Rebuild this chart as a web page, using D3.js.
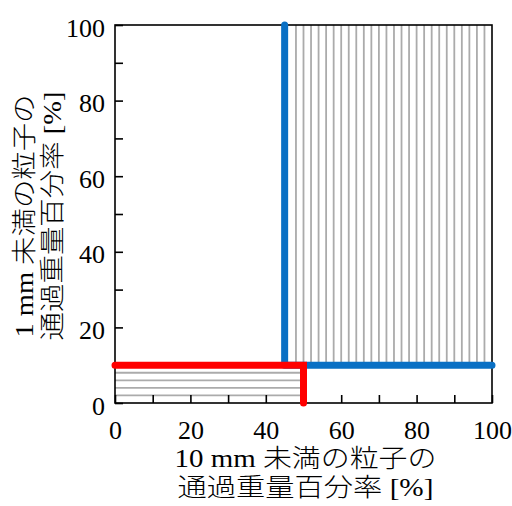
<!DOCTYPE html>
<html>
<head>
<meta charset="utf-8">
<script src="https://cdn.jsdelivr.net/npm/d3@7.9.0/dist/d3.min.js"></script>
<style>
  body { margin: 0; background: #fff; }
  svg text { font-family: "Liberation Serif", "Times New Roman", "Noto Sans CJK JP", serif; fill: #000; }
</style>
</head>
<body>
<svg id="chart" width="512" height="506"></svg>
<script>
// Axis ticks (every 10, labelled every 20)
const tickValues = [0, 10, 20, 30, 40, 50, 60, 70, 80, 90, 100];
const tickLabels = [0, 20, 40, 60, 80, 100];

// Boundary lines
const blueLine = [[45, 100], [45, 10], [100, 10]];
const redLine = [[0, 10], [50, 10], [50, 0]];

// Hatched regions
const blueRegion = { x0: 45, x1: 100, y0: 10, y1: 100 };
const redRegion = { x0: 0, x1: 50, y0: 0, y1: 10 };
const blueHatchX = [48, 50, 52, 54, 56, 58, 60, 62, 64, 66, 68, 70, 72, 74, 76, 78, 80, 82, 84, 86, 88, 90, 92, 94, 96, 98];
const redHatchY = [2, 4, 6, 8];

const xTitle = ["10 mm 未満の粒子の", "通過重量百分率 [%]"];
const yTitle = ["1 mm 未満の粒子の", "通過重量百分率 [%]"];

const svg = d3.select("#chart");
const plot = { left: 115, right: 492, top: 25, bottom: 403 };

const x = d3.scaleLinear().domain([0, 100]).range([plot.left, plot.right]);
const y = d3.scaleLinear().domain([0, 100]).range([plot.bottom, plot.top]);

// hatching
const hatch = svg.append("g")
  .attr("stroke", "#ababab")
  .attr("stroke-width", 1.8);

hatch.selectAll("line.v")
  .data(blueHatchX)
  .join("line")
  .attr("class", "v")
  .attr("x1", d => x(d)).attr("x2", d => x(d))
  .attr("y1", y(blueRegion.y0)).attr("y2", y(blueRegion.y1));

hatch.selectAll("line.h")
  .data(redHatchY)
  .join("line")
  .attr("class", "h")
  .attr("x1", x(redRegion.x0)).attr("x2", x(redRegion.x1))
  .attr("y1", d => y(d)).attr("y2", d => y(d));

// frame
svg.append("rect")
  .attr("x", plot.left).attr("y", plot.top)
  .attr("width", plot.right - plot.left).attr("height", plot.bottom - plot.top)
  .attr("fill", "none")
  .attr("stroke", "#000")
  .attr("stroke-width", 1.6);

const fmt = d => (tickLabels.includes(d) ? d : "");

// bottom axis, ticks pointing in
const xAxis = svg.append("g")
  .attr("transform", `translate(0,${plot.bottom})`)
  .call(d3.axisBottom(x).tickValues(tickValues).tickFormat(fmt).tickSize(-8).tickPadding(18));
xAxis.select(".domain").remove();
xAxis.attr("font-family", null);
xAxis.selectAll("line").attr("stroke-width", 1.6);
xAxis.selectAll("text").attr("font-size", 26);

// left axis
const yAxis = svg.append("g")
  .attr("transform", `translate(${plot.left},0)`)
  .call(d3.axisLeft(y).tickValues(tickValues).tickFormat(fmt).tickSize(-8).tickPadding(10));
yAxis.select(".domain").remove();
yAxis.attr("font-family", null);
yAxis.selectAll("line").attr("stroke-width", 1.6);
yAxis.selectAll("text").attr("font-size", 26).attr("dy", "0.43em");

// boundary lines
const line = d3.line().x(d => x(d[0])).y(d => y(d[1]));

svg.append("path")
  .attr("d", line(blueLine))
  .attr("fill", "none")
  .attr("stroke", "#0a70c4")
  .attr("stroke-width", 7)
  .attr("stroke-linecap", "round")
  .attr("stroke-linejoin", "round");

svg.append("path")
  .attr("d", line(redLine))
  .attr("fill", "none")
  .attr("stroke", "#ff0000")
  .attr("stroke-width", 7)
  .attr("stroke-linecap", "round")
  .attr("stroke-linejoin", "miter");

// axis titles
const cx = (plot.left + plot.right) / 2;
svg.append("g").selectAll("text")
  .data(xTitle)
  .join("text")
  .attr("x", cx + 2)
  .attr("y", (d, i) => 467 + i * 29)
  .attr("text-anchor", "middle")
  .attr("font-size", 25)
  .attr("font-weight", 300)
  .attr("textLength", (d, i) => (i === 0 ? 262 : 256))
  .attr("lengthAdjust", "spacingAndGlyphs")
  .text(d => d);

const cy = 216;
svg.append("g").selectAll("text")
  .data(yTitle)
  .join("text")
  .attr("transform", (d, i) => `translate(${33 + i * 28},${cy}) rotate(-90)`)
  .attr("text-anchor", "middle")
  .attr("font-size", 25)
  .attr("font-weight", 300)
  .attr("textLength", (d, i) => (i === 0 ? 243 : 249))
  .attr("lengthAdjust", "spacingAndGlyphs")
  .text(d => d);
</script>
</body>
</html>
